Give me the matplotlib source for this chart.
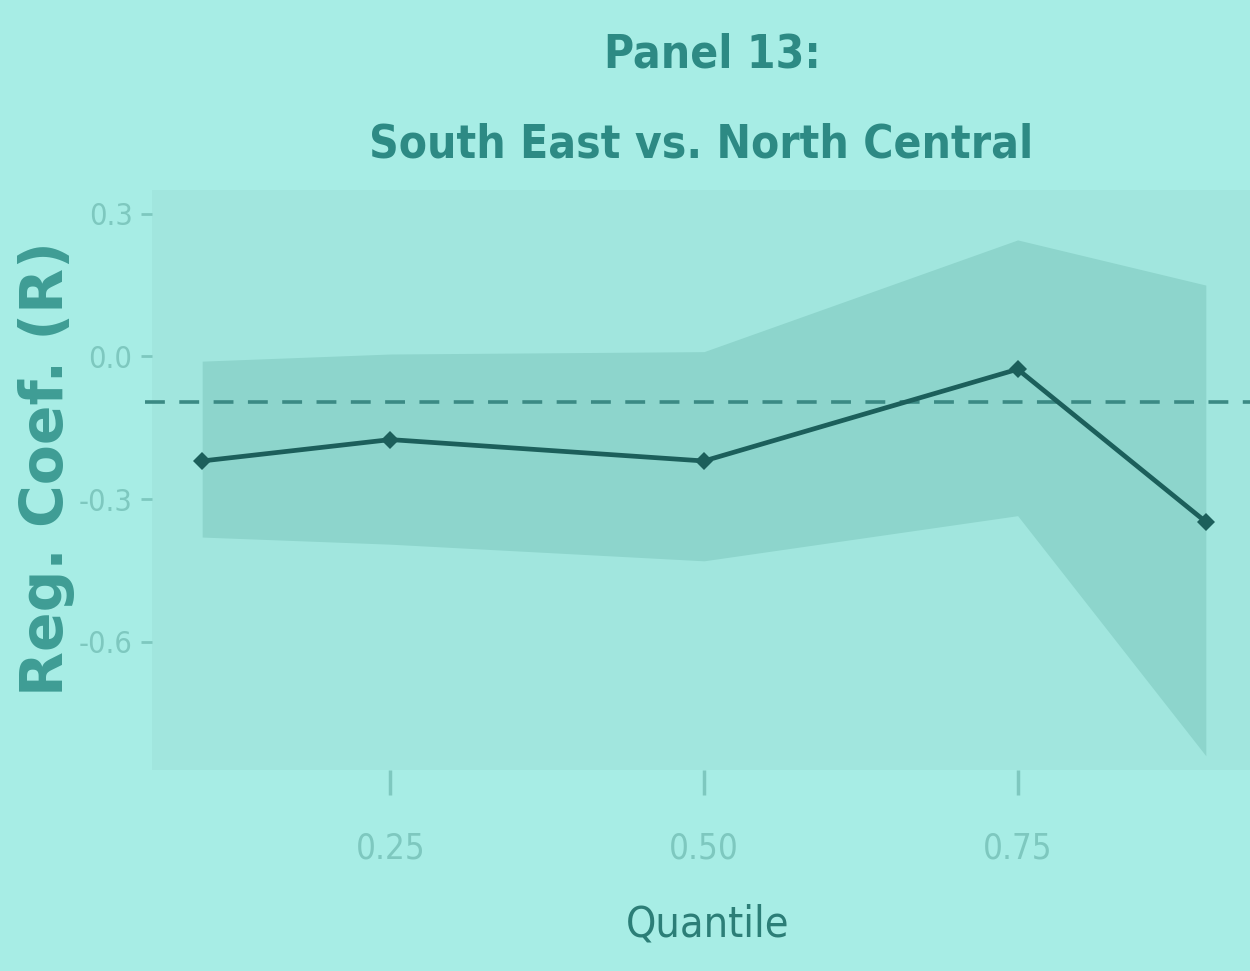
import matplotlib.pyplot as plt
from matplotlib import font_manager

# quantile regression coefficients, South East vs. North Central
quantiles = [0.10, 0.25, 0.50, 0.75, 0.90]
coef = [-0.22, -0.175, -0.22, -0.027, -0.348]
ci_upper = [-0.01, 0.005, 0.01, 0.245, 0.15]
ci_lower = [-0.38, -0.395, -0.43, -0.335, -0.84]
ols_coef = -0.095

x_ticks = [0.25, 0.50, 0.75]
x_tick_labels = ['0.25', '0.50', '0.75']
y_ticks = [0.3, 0.0, -0.3, -0.6]
y_tick_labels = ['0.3', '0.0', '-0.3', '-0.6']

bg = '#a7ede5'
panel = '#a1e6de'
band = '#8dd5cc'
line_col = '#1c5f5b'
pale = '#7ec8bf'

# narrow face if there is one, otherwise condensed DejaVu
names = {f.name for f in font_manager.fontManager.ttflist}
has_narrow = 'Liberation Sans Narrow' in names
narrow = ['Liberation Sans Narrow'] if has_narrow else ['DejaVu Sans']
stretch = 'normal' if has_narrow else 'condensed'

fig = plt.figure(figsize=(12.5, 9.71), dpi=100, facecolor=bg)
ax = fig.add_axes([152 / 1250, 1 - 770 / 971, 1104 / 1250, 580 / 971])
ax.set_facecolor(panel)

ax.fill_between(quantiles, ci_lower, ci_upper, color=band, lw=0, zorder=1)
ax.axhline(ols_coef, color='#3b8a84', lw=2.6, ls=(0, (5.5, 4)), zorder=2,
           xmin=-0.006, clip_on=False)
ax.plot(quantiles, coef, color=line_col, lw=3.4, marker='D', ms=9,
        markeredgewidth=0, zorder=3)

ax.set_xlim(0.06, 0.94)
ax.set_ylim(-0.87, 0.35)
ax.set_xticks(x_ticks)
ax.set_xticklabels(x_tick_labels)
ax.set_yticks(y_ticks)
ax.set_yticklabels(y_tick_labels)

for s in ax.spines.values():
    s.set_visible(False)

ax.tick_params(axis='x', length=18, width=2.5, color=pale, pad=26,
               labelsize=25, labelcolor=pale)
ax.tick_params(axis='y', length=8, width=2, color=pale, pad=6,
               labelsize=22, labelcolor=pale)
for lab in ax.get_xticklabels() + ax.get_yticklabels():
    lab.set_family(narrow)
    lab.set_stretch(stretch)

ax.set_xlabel('Quantile', family=narrow, stretch=stretch, fontsize=31,
              color='#2c7e77')
ax.xaxis.set_label_coords(0.503, -0.23)
ax.set_ylabel('Reg. Coef. (R)', family='DejaVu Sans', fontsize=42,
              fontweight='bold', color='#3f9d95')
ax.yaxis.set_label_coords(-0.07, 0.52)

fig.text(712 / 1250, 1 - 55 / 971, 'Panel 13:', family=narrow,
         stretch=stretch, fontweight='bold', fontsize=33, color='#2d8a84',
         ha='center', va='center')
fig.text(701 / 1250, 1 - 145 / 971, 'South East vs. North Central',
         family=narrow, stretch=stretch, fontweight='bold', fontsize=33,
         color='#2d8a84', ha='center', va='center')

fig.savefig('out.png', dpi=100, facecolor=bg)
